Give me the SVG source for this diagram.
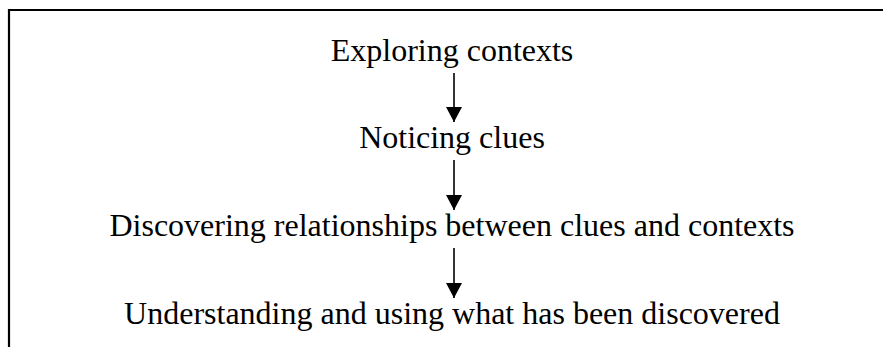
<svg xmlns="http://www.w3.org/2000/svg" width="883" height="347" viewBox="0 0 883 347">
<style>
.t{font-family:"Liberation Serif","Times New Roman",serif;font-size:32px;fill:#000;text-anchor:middle}
.c{stroke:#000;stroke-width:1.6;fill:none}
</style>
<defs>
<marker id="ah" markerUnits="userSpaceOnUse" markerWidth="16" markerHeight="16" refX="15" refY="8" orient="auto">
<path d="M0,0 L15,8 L0,16 Z" fill="#000"/>
</marker>
</defs>
<rect width="883" height="347" fill="#fff"/>
<path d="M9,347 V10 H883" stroke="#000" stroke-width="2.2" fill="none"/>
<g id="n1"><text class="t" x="452" y="61">Exploring contexts</text></g>
<g id="n2"><text class="t" x="452" y="148">Noticing clues</text></g>
<g id="n3"><text class="t" x="452" y="236">Discovering relationships between clues and contexts</text></g>
<g id="n4"><text class="t" x="452" y="324">Understanding and using what has been discovered</text></g>
<g id="connectors">
<line class="c" x1="454" y1="73" x2="454" y2="122" marker-end="url(#ah)"/>
<line class="c" x1="454" y1="160" x2="454" y2="210" marker-end="url(#ah)"/>
<line class="c" x1="454" y1="248" x2="454" y2="298" marker-end="url(#ah)"/>
</g>
</svg>
